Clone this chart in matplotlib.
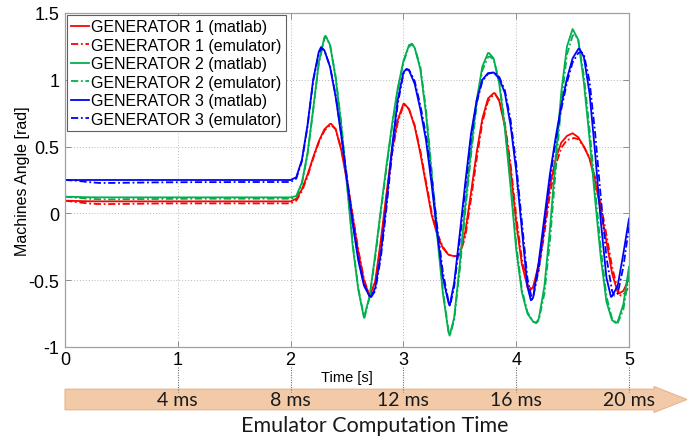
import numpy as np
import matplotlib
matplotlib.use('Agg')
import matplotlib.pyplot as plt
from matplotlib.patches import FancyArrow

# time samples [s]
t_flat = [0.0, 0.1, 0.2, 0.3, 0.4, 0.6, 0.8, 1.0, 1.2, 1.4, 1.6, 1.8, 1.95]
t_osc = [2.00, 2.05, 2.10, 2.15, 2.20, 2.25, 2.30, 2.35, 2.40, 2.45,
         2.50, 2.55, 2.60, 2.65, 2.70, 2.75, 2.80, 2.85, 2.90, 2.95,
         3.00, 3.05, 3.10, 3.15, 3.20, 3.25, 3.30, 3.35, 3.40, 3.45,
         3.50, 3.55, 3.60, 3.65, 3.70, 3.75, 3.80, 3.85, 3.90, 3.95,
         4.00, 4.05, 4.10, 4.15, 4.20, 4.25, 4.30, 4.35, 4.40, 4.45,
         4.50, 4.55, 4.60, 4.65, 4.70, 4.75, 4.80, 4.85, 4.90, 4.95, 5.00]
t = t_flat + t_osc

# generator 1 (red)
g1_flat = [0.095, 0.093, 0.091, 0.09, 0.09, 0.09, 0.09, 0.09, 0.09, 0.09, 0.09, 0.09, 0.09]
g1_osc = [0.09, 0.11, 0.18, 0.29, 0.42, 0.54, 0.63, 0.67, 0.63, 0.47,
          0.24, -0.02, -0.29, -0.50, -0.62, -0.51, -0.20, 0.15, 0.48, 0.70,
          0.82, 0.78, 0.65, 0.45, 0.22, -0.01, -0.16, -0.26, -0.31, -0.32,
          -0.31, -0.13, 0.16, 0.46, 0.71, 0.86, 0.90, 0.84, 0.65, 0.33,
          -0.07, -0.38, -0.55, -0.55, -0.38, -0.09, 0.21, 0.41, 0.53, 0.58,
          0.60, 0.57, 0.50, 0.41, 0.24, 0.02, -0.21, -0.45, -0.59, -0.58, -0.49]
g1_ext = [(2.36, 0.67), (3.01, 0.82), (3.475, -0.32), (3.81, 0.90), (4.125, -0.575), (4.91, -0.60)]
g1e_flat = [0.095, 0.085, 0.075, 0.07, 0.07, 0.072, 0.074, 0.075, 0.075, 0.075, 0.075, 0.075, 0.075]
g1e_osc = [0.075, 0.095, 0.165, 0.275, 0.41, 0.53, 0.62, 0.66, 0.63, 0.48,
           0.25, -0.01, -0.27, -0.49, -0.62, -0.53, -0.23, 0.12, 0.45, 0.68,
           0.81, 0.78, 0.66, 0.47, 0.24, 0.01, -0.15, -0.25, -0.31, -0.32,
           -0.31, -0.17, 0.11, 0.41, 0.68, 0.84, 0.89, 0.85, 0.67, 0.37,
           -0.02, -0.34, -0.53, -0.56, -0.42, -0.15, 0.15, 0.36, 0.49, 0.55,
           0.56, 0.555, 0.50, 0.42, 0.27, 0.07, -0.16, -0.40, -0.57, -0.61, -0.55]
g1e_ext = [(2.36, 0.66), (3.01, 0.81), (3.48, -0.32), (3.815, 0.89), (4.135, -0.57),
           (4.51, 0.565), (4.925, -0.615)]

# generator 2 (green)
g2_flat = [0.125, 0.123, 0.121, 0.12, 0.12, 0.12, 0.12, 0.12, 0.12, 0.12, 0.12, 0.12, 0.12]
g2_osc = [0.12, 0.13, 0.23, 0.45, 0.78, 1.13, 1.32, 1.26, 1.01, 0.65,
          0.21, -0.24, -0.57, -0.78, -0.62, -0.31, 0.03, 0.36, 0.67, 0.94,
          1.14, 1.26, 1.24, 1.08, 0.75, 0.29, -0.17, -0.60, -0.89, -0.78,
          -0.38, 0.07, 0.48, 0.85, 1.10, 1.20, 1.16, 0.97, 0.63, 0.20,
          -0.27, -0.59, -0.75, -0.81, -0.79, -0.545, -0.11, 0.41, 0.91, 1.25,
          1.38, 1.30, 0.98, 0.56, 0.10, -0.33, -0.66, -0.80, -0.81, -0.68, -0.40]
g2_ext = [(2.31, 1.33), (3.075, 1.27), (3.41, -0.915), (3.76, 1.20), (4.175, -0.82), (4.885, -0.82)]
g2e_flat = [0.125, 0.118, 0.11, 0.106, 0.105, 0.107, 0.108, 0.109, 0.11, 0.11, 0.11, 0.11, 0.11]
g2e_osc = [0.11, 0.12, 0.22, 0.44, 0.77, 1.12, 1.31, 1.26, 1.02, 0.67,
           0.23, -0.22, -0.56, -0.77, -0.63, -0.33, 0.01, 0.34, 0.65, 0.92,
           1.13, 1.25, 1.24, 1.10, 0.78, 0.33, -0.13, -0.57, -0.88, -0.80,
           -0.42, 0.03, 0.44, 0.81, 1.07, 1.17, 1.15, 0.99, 0.66, 0.24,
           -0.23, -0.57, -0.74, -0.81, -0.80, -0.60, -0.20, 0.32, 0.83, 1.19,
           1.33, 1.30, 1.03, 0.63, 0.18, -0.26, -0.62, -0.79, -0.82, -0.72, -0.46]
g2e_ext = [(2.315, 1.32), (2.655, -0.78), (3.08, 1.265), (3.415, -0.905), (3.765, 1.175),
           (4.18, -0.82), (4.52, 1.34), (4.895, -0.825)]

# generator 3 (blue)
g3_flat = [0.25, 0.25, 0.25, 0.25, 0.25, 0.25, 0.25, 0.25, 0.25, 0.25, 0.25, 0.25, 0.25]
g3_osc = [0.25, 0.27, 0.40, 0.66, 1.00, 1.21, 1.22, 1.095, 0.87, 0.575,
          0.243, -0.077, -0.352, -0.54, -0.62, -0.56, -0.30, 0.08, 0.50, 0.85,
          1.055, 1.07, 0.97, 0.78, 0.55, 0.22, -0.15, -0.48, -0.67, -0.52,
          -0.15, 0.24, 0.60, 0.85, 1.00, 1.05, 1.055, 1.01, 0.90, 0.66,
          0.32, -0.12, -0.55, -0.63, -0.36, -0.03, 0.30, 0.57, 0.81, 1.01,
          1.16, 1.23, 1.17, 0.90, 0.45, -0.06, -0.48, -0.62, -0.54, -0.30, -0.04]
g3_ext = [(2.27, 1.245), (2.71, -0.625), (3.025, 1.08), (3.41, -0.69), (4.13, -0.65),
          (4.56, 1.235), (4.84, -0.625)]
g3e_flat = [0.25, 0.245, 0.235, 0.228, 0.228, 0.23, 0.232, 0.233, 0.234, 0.234, 0.235, 0.235, 0.235]
g3e_osc = [0.235, 0.26, 0.39, 0.65, 0.99, 1.20, 1.22, 1.10, 0.88, 0.59,
           0.27, -0.05, -0.33, -0.53, -0.62, -0.58, -0.33, 0.04, 0.46, 0.82,
           1.045, 1.075, 0.99, 0.81, 0.59, 0.27, -0.10, -0.44, -0.66, -0.55,
           -0.20, 0.20, 0.57, 0.83, 0.99, 1.045, 1.055, 1.02, 0.92, 0.70,
           0.37, -0.06, -0.49, -0.63, -0.42, -0.10, 0.26, 0.54, 0.78, 0.98,
           1.13, 1.20, 1.19, 0.99, 0.60, 0.12, -0.33, -0.58, -0.60, -0.40, -0.10]
g3e_ext = [(2.275, 1.235), (2.715, -0.625), (3.03, 1.08), (3.415, -0.685), (3.81, 1.055),
           (4.14, -0.645), (4.575, 1.21), (4.87, -0.615)]

labels = ['GENERATOR 1 (matlab)', 'GENERATOR 1 (emulator)',
          'GENERATOR 2 (matlab)', 'GENERATOR 2 (emulator)',
          'GENERATOR 3 (matlab)', 'GENERATOR 3 (emulator)']
ms_ticks = [1, 2, 3, 4, 5]
ms_labels = ['4 ms', '8 ms', '12 ms', '16 ms', '20 ms']


def with_extrema(ys, ext):
    pts = sorted(list(zip(t, ys)) + list(ext))
    return [p[0] for p in pts], [p[1] for p in pts]


red, green, blue = '#ff0000', '#00b050', '#0000ff'
dashdot = (0, (4, 1.5, 1, 1.5))

plt.rcParams['font.family'] = ['Liberation Sans', 'DejaVu Sans']

fig = plt.figure(figsize=(6.98, 4.39), dpi=100)
ax = fig.add_axes([65/698, 1-348/439, 564/698, 334/439])

series = [(g1_flat + g1_osc, g1_ext, red, '-'), (g1e_flat + g1e_osc, g1e_ext, red, dashdot),
          (g2_flat + g2_osc, g2_ext, green, '-'), (g2e_flat + g2e_osc, g2e_ext, green, dashdot),
          (g3_flat + g3_osc, g3_ext, blue, '-'), (g3e_flat + g3e_osc, g3e_ext, blue, dashdot)]
for (y, ext, c, ls), lab in zip(series, labels):
    xs, ys = with_extrema(y, ext)
    ax.plot(xs, ys, color=c, linestyle=ls, lw=1.3, label=lab)

ax.set_xlim(0, 5)
ax.set_ylim(-1, 1.5)
ax.set_xticks([0, 1, 2, 3, 4, 5])
ax.set_xticklabels(['0', '1', '2', '3', '4', '5'])
ax.set_yticks([-1, -0.5, 0, 0.5, 1, 1.5])
ax.set_yticklabels(['-1', '-0.5', '0', '0.5', '1', '1.5'])
ax.tick_params(direction='in', top=True, right=True, length=4, width=0.6,
               color='#808080', labelsize=13)
ax.tick_params(axis='x', pad=3)
ax.tick_params(axis='y', pad=4)
for s in ax.spines.values():
    s.set_color('#a0a0a0')
    s.set_linewidth(0.9)
ax.grid(True, color='#b8b8b8', linestyle=(0, (1, 2)), linewidth=0.7)

ax.set_xlabel('Time [s]', fontsize=10.5, labelpad=1)
ax.set_ylabel('Machines Angle [rad]', fontsize=11.5, labelpad=-1)

leg = ax.legend(loc='upper left', fontsize=11.5, handlelength=1.1,
                handletextpad=0.15, labelspacing=0.22, borderaxespad=0.15,
                borderpad=0.25, fancybox=False, framealpha=1)
leg.get_frame().set_edgecolor('#606060')
leg.get_frame().set_linewidth(0.8)

# emulator time axis arrow, kept behind the axes artists
arr = FancyArrow(65/698, 1-400.5/439, (654-65)/698, 0, width=20.7/439,
                 head_width=26/439, head_length=33/698, length_includes_head=False,
                 transform=fig.transFigure, facecolor='#f2caa8', edgecolor='#e2b693',
                 linewidth=0.8, zorder=-1)
fig.add_artist(arr)

ax.vlines(ms_ticks, -0.06, -0.135, transform=ax.get_xaxis_transform(),
          colors='#707070', linestyles=(0, (1, 1.2)), linewidth=0.8, clip_on=False)
for xv, lab in zip(ms_ticks, ms_labels):
    ax.text(xv, -0.158, lab, transform=ax.get_xaxis_transform(), ha='center',
            va='center', fontsize=14, family=['Lato', 'DejaVu Sans'], color='#1a1a1a')
fig.text(375/698, 1-426/439, 'Emulator Computation Time', ha='center', va='center',
         fontsize=15.5, family=['Lato', 'DejaVu Sans'], color='#1a1a1a')

fig.savefig('out.png', dpi=100)
